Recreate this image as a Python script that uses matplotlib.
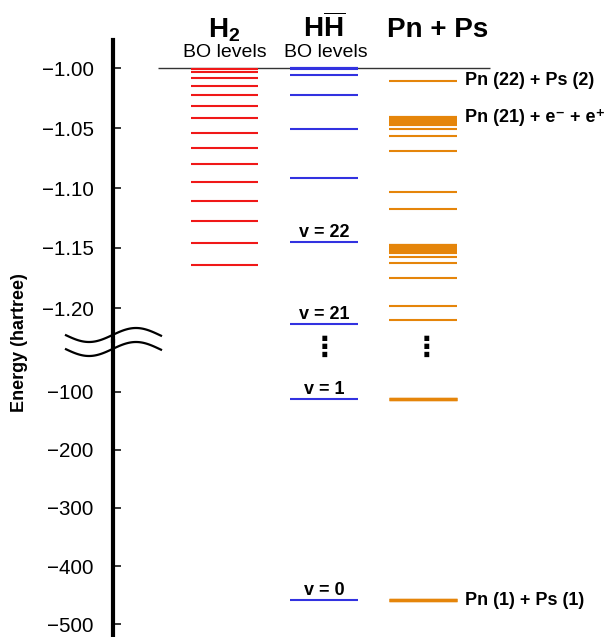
import numpy as np
import matplotlib
matplotlib.use('Agg')
import matplotlib.pyplot as plt

plt.rcParams['font.family'] = ['Liberation Sans', 'DejaVu Sans']
plt.rcParams['mathtext.fontset'] = 'custom'
plt.rcParams['mathtext.rm'] = 'Liberation Sans'
plt.rcParams['mathtext.bf'] = 'Liberation Sans:bold'

# ---- data (hartree) ----
h2_levels = [-1.0009, -1.0034, -1.0083, -1.0150, -1.0228, -1.0318, -1.0418, -1.0540,
             -1.0668, -1.0802, -1.0950, -1.1108, -1.1278, -1.1457, -1.1645]

hhbar_levels = [-1.0000, -1.0004, -1.0010, -1.0058, -1.0225, -1.0507, -1.0915,
                -1.1452, -1.2135, -113.1, -459.0]
hhbar_v_energy = [-1.1452, -1.2135, -113.1, -459.0]
hhbar_v_names = ['v = 22', 'v = 21', 'v = 1', 'v = 0']

pnps_levels = [-1.0108,
               -1.0410, -1.0412, -1.0414, -1.0417, -1.0420, -1.0424, -1.0428, -1.0433,
               -1.0440, -1.0449, -1.0461, -1.0479, -1.0510, -1.0566, -1.0688, -1.1035,
               -1.1178,
               -1.1473, -1.1475, -1.1477, -1.1480, -1.1483, -1.1487, -1.1491, -1.1496,
               -1.1503, -1.1512, -1.1524, -1.1542, -1.1573, -1.1629, -1.1751, -1.1980,
               -1.2098,
               -112.8, -113.3, -458.7, -459.2]
pnps_label_energy = [-1.0108, -1.0410, -459.0]
pnps_label_names = ['Pn (22) + Ps (2)', 'Pn (21) + e\u207b + e\u207a', 'Pn (1) + Ps (1)']

upper_ticks = [-1.00, -1.05, -1.10, -1.15, -1.20]
lower_ticks = [-100, -200, -300, -400, -500]

# ---- layout (pixels) ----
W, H = 608, 637
AXIS_X = 113
TOP = 40
SPLIT = 341
cols = {'h2': (191, 258), 'hh': (290, 358), 'pn': (389, 457)}
red, blue, orange = '#f01818', '#3232e0', '#e5850a'


def fx(x):
    return x / W


def fy(y):
    return 1 - y / H


fig = plt.figure(figsize=(W / 100, H / 100), dpi=100)

ax_top = fig.add_axes([fx(AXIS_X), fy(SPLIT), fx(W) - fx(AXIS_X), fy(TOP) - fy(SPLIT)])
ax_bot = fig.add_axes([fx(AXIS_X), 0, fx(W) - fx(AXIS_X), fy(SPLIT)])

# upper: 1200 px per hartree, -1.00 at y=68 ; lower: 0.581 px per hartree, -100 at y=391.7
ax_top.set_ylim(-1.00 - (SPLIT - 68) / 1200, -1.00 + (68 - TOP) / 1200)
ax_bot.set_ylim(-100 - (H - 391.7) / 0.581, -100 + (391.7 - SPLIT) / 0.581)

for ax in (ax_top, ax_bot):
    ax.set_xlim(AXIS_X, W)
    ax.patch.set_visible(False)
    for s in ('top', 'right', 'bottom'):
        ax.spines[s].set_visible(False)
    ax.spines['left'].set_linewidth(3)
    ax.set_xticks([])
    ax.tick_params(axis='y', direction='in', length=6, width=1.1, labelsize=14.8, pad=14)

ax_top.set_yticks(upper_ticks)
ax_top.set_yticklabels(['\u2212%.2f' % abs(v) for v in upper_ticks])
ax_bot.set_yticks(lower_ticks)
ax_bot.set_yticklabels(['\u2212%d' % abs(v) for v in lower_ticks])

# dissociation limit line
ax_top.hlines(-1.0, 158, 490, color='#333333', lw=1.0, zorder=1)


def draw_levels(levels, col, color, lw_low=1.5):
    x0, x1 = cols[col]
    up = [e for e in levels if e > -2]
    low = [e for e in levels if e < -2]
    ax_top.hlines(up, x0, x1, color=color, lw=1.5, zorder=2)
    ax_bot.hlines(low, x0, x1, color=color, lw=lw_low, zorder=2)


draw_levels(h2_levels, 'h2', red)
draw_levels(hhbar_levels, 'hh', blue)
draw_levels(pnps_levels, 'pn', orange, lw_low=2.4)

# v labels
for e, name in zip(hhbar_v_energy, hhbar_v_names):
    ax = ax_top if e > -2 else ax_bot
    ax.annotate(name, (sum(cols['hh']) / 2, e), xytext=(0, 3.6), textcoords='offset points',
                ha='center', va='baseline', fontsize=13, fontweight='bold')

# Pn + Ps labels
for e, name in zip(pnps_label_energy, pnps_label_names):
    ax = ax_top if e > -2 else ax_bot
    ax.text(465, e, name, ha='left', va='center', fontsize=13, fontweight='bold')

# overlay in pixel coords for headers, break marks, dots
ov = fig.add_axes([0, 0, 1, 1])
ov.set_xlim(0, W)
ov.set_ylim(H, 0)
ov.axis('off')

ov.text(224, 37, r'$\mathbf{H_2}$', ha='center', va='baseline', fontsize=20)
ov.text(324, 37, r'$\mathbf{H\overline{H}}$', ha='center', va='baseline', fontsize=20)
ov.text(438, 37, 'Pn + Ps', ha='center', va='baseline', fontsize=20, fontweight='bold')
ov.text(224.5, 57, 'BO levels', ha='center', va='baseline', fontsize=14)
ov.text(325.5, 57, 'BO levels', ha='center', va='baseline', fontsize=14)

xs = np.linspace(66, 161, 120)
for c in (335, 349):
    ov.plot(xs, c + 7 * np.cos(2 * np.pi * (xs - 89) / 94), color='black', lw=1.6)

for x in (325, 426):
    ov.text(x, 348, '\u22ee', ha='center', va='center', fontsize=20, fontweight='bold',
            family='DejaVu Sans')

ov.text(20, 343, 'Energy (hartree)', rotation=90, ha='center', va='center',
        fontsize=13, fontweight='bold')

fig.savefig('out.png', dpi=100)
